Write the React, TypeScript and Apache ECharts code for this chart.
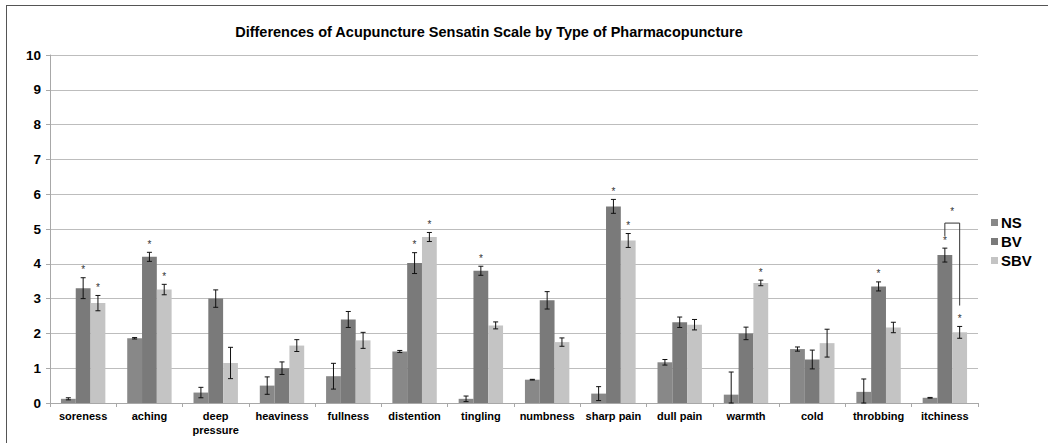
import React, { useEffect, useRef } from "react";
import * as echarts from "echarts";

const categories = [
  "soreness", "aching", "deep\npressure", "heaviness", "fullness", "distention", "tingling",
  "numbness", "sharp pain", "dull pain", "warmth", "cold", "throbbing", "itchiness",
];
const seriesNames = ["NS", "BV", "SBV"];
const nsValues = [0.12, 1.86, 0.3, 0.5, 0.77, 1.48, 0.12, 0.67, 0.27, 1.17, 0.24, 1.55, 0.32, 0.15];
const nsErrors = [0.03, 0.02, 0.15, 0.25, 0.37, 0.03, 0.08, 0.01, 0.2, 0.08, 0.65, 0.06, 0.37, 0.01];
const bvValues = [3.3, 4.2, 3.0, 1.0, 2.4, 4.02, 3.8, 2.95, 5.65, 2.32, 2.0, 1.25, 3.35, 4.25];
const bvErrors = [0.3, 0.13, 0.25, 0.18, 0.23, 0.3, 0.13, 0.25, 0.2, 0.15, 0.18, 0.27, 0.13, 0.2];
const sbvValues = [2.87, 3.26, 1.15, 1.65, 1.8, 4.77, 2.23, 1.75, 4.67, 2.25, 3.45, 1.72, 2.17, 2.03];
const sbvErrors = [0.22, 0.15, 0.45, 0.17, 0.23, 0.13, 0.1, 0.12, 0.2, 0.15, 0.08, 0.4, 0.15, 0.17];
const nsStars = [0, 0, 0, 0, 0, 0, 0, 0, 0, 0, 0, 0, 0, 0];
const bvStars = [1, 1, 0, 0, 0, 1, 1, 0, 1, 0, 0, 0, 1, 1];
const sbvStars = [1, 1, 0, 0, 0, 1, 0, 0, 1, 0, 1, 0, 0, 1];
// bracket between BV and SBV of itchiness: [category index, left bottom, top, right bottom, star]
const bracket = [13, 4.8, 5.17, 2.8, 5.5];
const yTicks = [0, 10, 1];

const colors = ["#888888", "#7a7a7a", "#c4c4c4"];
const CAT_GAP = 0.33;

export default function App() {
  const ref = useRef<HTMLDivElement>(null);
  useEffect(() => {
    if (!ref.current) return;
    const chart = echarts.init(ref.current, null, { renderer: "svg" });
    const vals = [nsValues, bvValues, sbvValues];
    const errs = [nsErrors, bvErrors, sbvErrors];
    const stars = [nsStars, bvStars, sbvStars];
    const errData: number[][] = [];
    for (let s = 0; s < 3; s++) {
      for (let i = 0; i < categories.length; i++) {
        errData.push([i, s, vals[s][i], errs[s][i], stars[s][i]]);
      }
    }
    const font = "'Liberation Sans', Arial, sans-serif";
    chart.setOption({
      animation: false,
      title: {
        text: "Differences of Acupuncture Sensatin Scale by Type of Pharmacopuncture",
        left: 484,
        textAlign: "center",
        top: 19,
        textStyle: { fontFamily: font, fontWeight: "bold", fontSize: 14.5, color: "#000" },
      },
      legend: {
        data: seriesNames,
        orient: "vertical",
        left: 986,
        top: 210,
        itemWidth: 7,
        itemHeight: 7,
        itemGap: 4,
        icon: "rect",
        textStyle: { fontFamily: font, fontWeight: "bold", fontSize: 15, color: "#000", padding: [0, 0, 0, -2] },
      },
      grid: { left: 50, right: 70, top: 55, bottom: 40 },
      xAxis: {
        type: "category",
        data: categories,
        axisLine: { lineStyle: { color: "#a8a8a8" } },
        axisTick: { show: true, length: 4, lineStyle: { color: "#a8a8a8" } },
        axisLabel: {
          interval: 0,
          margin: 6,
          fontFamily: font,
          fontWeight: "bold",
          fontSize: 11,
          lineHeight: 14,
          color: "#000",
        },
      },
      yAxis: {
        type: "value",
        min: yTicks[0],
        max: yTicks[1],
        interval: yTicks[2],
        axisLine: { show: true, lineStyle: { color: "#a8a8a8" } },
        axisTick: { show: true, length: 4, lineStyle: { color: "#a8a8a8" } },
        splitLine: { lineStyle: { color: "#bdbdbd" } },
        axisLabel: { fontFamily: font, fontWeight: "bold", fontSize: 13.5, color: "#000", margin: 9 },
      },
      graphic: [
        { type: "line", shape: { x1: 6, y1: 5.5, x2: 1048, y2: 5.5 }, style: { stroke: "#555", lineWidth: 1 } },
        { type: "line", shape: { x1: 6.5, y1: 5, x2: 6.5, y2: 443 }, style: { stroke: "#555", lineWidth: 1 } },
      ],
      series: [
        ...seriesNames.map((name, s) => ({
          name,
          type: "bar",
          data: vals[s],
          barGap: "0%",
          barCategoryGap: CAT_GAP * 100 + "%",
          itemStyle: { color: colors[s] },
        })),
        {
          name: "errors",
          type: "custom",
          z: 5,
          data: errData,
          encode: { x: 0, y: 2 },
          renderItem: (params: any, api: any) => {
            const cat = api.value(0);
            const s = api.value(1);
            const v = api.value(2);
            const e = api.value(3);
            const star = api.value(4);
            const band = api.size([1, 0])[0];
            const bw = (band * (1 - CAT_GAP)) / 3;
            const c = api.coord([cat, v]);
            const x = c[0] + (s - 1) * bw;
            const yTop = api.coord([cat, v + e])[1];
            const yBot = api.coord([cat, Math.max(0, v - e)])[1];
            const st = { stroke: "#111", lineWidth: 1 };
            const children: any[] = [
              { type: "line", shape: { x1: x, y1: yTop, x2: x, y2: yBot }, style: st },
              { type: "line", shape: { x1: x - 2.5, y1: yTop, x2: x + 2.5, y2: yTop }, style: st },
              { type: "line", shape: { x1: x - 2.5, y1: yBot, x2: x + 2.5, y2: yBot }, style: st },
            ];
            if (star) {
              children.push({
                type: "text",
                style: {
                  text: "*",
                  x: x,
                  y: yTop - 8,
                  align: "center",
                  verticalAlign: "middle",
                  fontSize: 10,
                  fontFamily: font,
                  fill: "#333",
                },
              });
            }
            return { type: "group", children };
          },
        },
        {
          name: "bracket",
          type: "custom",
          z: 5,
          data: [bracket],
          encode: { x: 0, y: 2 },
          renderItem: (params: any, api: any) => {
            const cat = api.value(0);
            const band = api.size([1, 0])[0];
            const bw = (band * (1 - CAT_GAP)) / 3;
            const cx = api.coord([cat, 0])[0];
            const xl = cx;
            const xr = cx + bw;
            const yl = api.coord([cat, api.value(1)])[1];
            const yt = api.coord([cat, api.value(2)])[1];
            const yr = api.coord([cat, api.value(3)])[1];
            const ys = api.coord([cat, api.value(4)])[1];
            return {
              type: "group",
              children: [
                {
                  type: "polyline",
                  shape: { points: [[xl, yl], [xl, yt], [xr, yt], [xr, yr]] },
                  style: { stroke: "#333", lineWidth: 1, fill: "none" },
                },
                {
                  type: "text",
                  style: {
                    text: "*",
                    x: (xl + xr) / 2,
                    y: ys,
                    align: "center",
                    verticalAlign: "middle",
                    fontSize: 10,
                    fontFamily: font,
                    fill: "#333",
                  },
                },
              ],
            };
          },
        },
      ],
    });
    return () => chart.dispose();
  }, []);
  return (
    <div
      ref={ref}
      style={{ position: "fixed", left: 0, top: 0, width: 1048, height: 443, background: "#fff" }}
    />
  );
}
